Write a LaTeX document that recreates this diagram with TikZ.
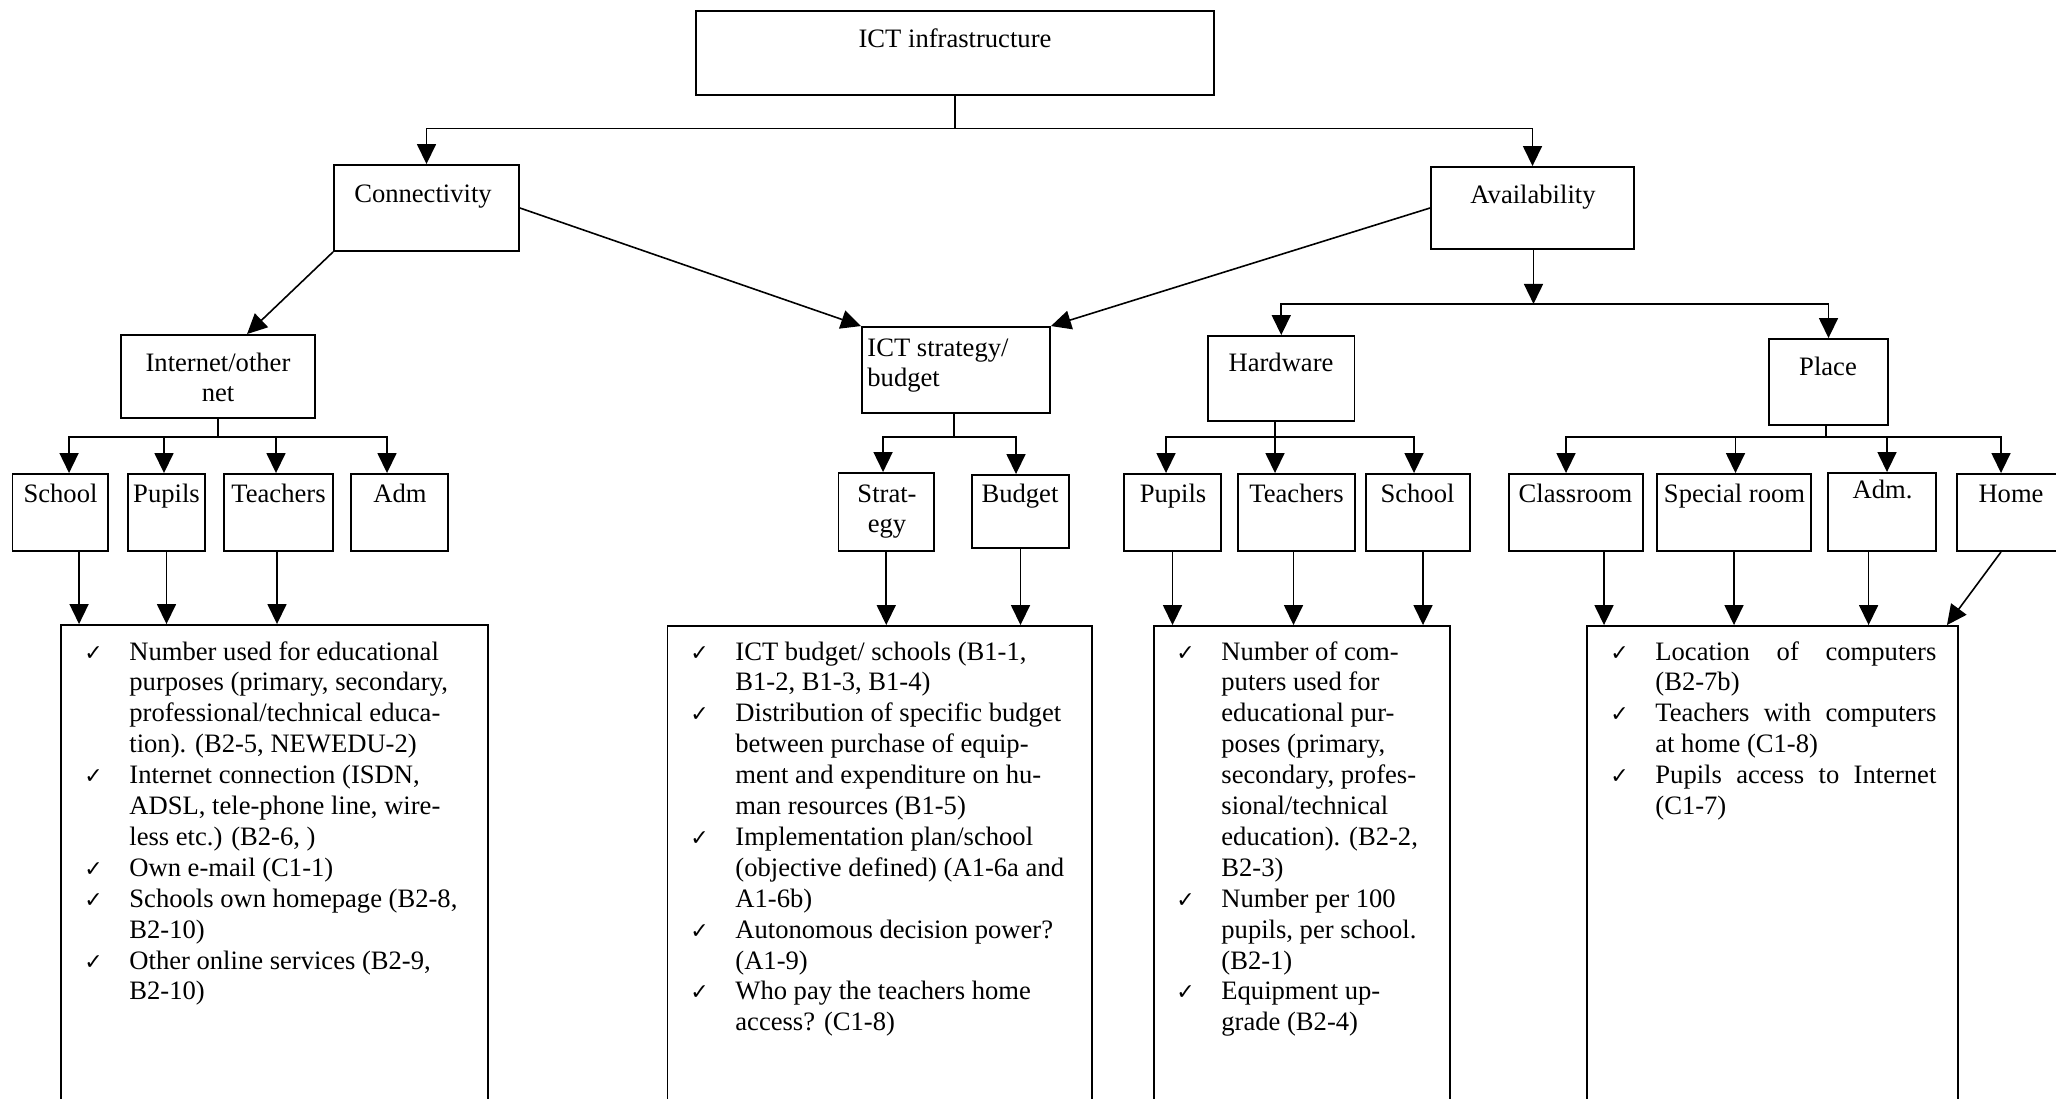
\documentclass[tikz,border=0pt]{standalone}
\usepackage{fontspec}
\setmainfont{Liberation Serif}
\newfontfamily\ckfont{DejaVu Sans}
\usetikzlibrary{arrows.meta,fit,calc}

% check-mark lists with hanging indent
\newlength\hangw \setlength\hangw{22.5pt}
\newcommand\ckm{{\ckfont\fontsize{11}{11}\selectfont ✓}}
\newcommand\itm[1]{\par\hangindent=\hangw\hangafter=1\noindent\makebox[\hangw][l]{\ckm}#1}
\newcommand\jl[1]{\makebox[140.5pt][s]{#1}}
\newcommand\checklist[1]{\begin{minipage}[t]{300pt}\fontsize{13.3}{15.45}\selectfont\setlength\parskip{0pt}\rightskip=0pt plus 1fil\relax #1\par\end{minipage}}
\newcommand\twoline[3]{\begin{tabular}[t]{@{}#1@{}}#2\\#3\end{tabular}}

\begin{document}
\begin{tikzpicture}[x=0.5pt,y=-0.5pt,
  box/.style={draw, line width=0.95pt, inner sep=0pt},
  lbl/.style={inner sep=0pt, anchor=base, font=\fontsize{13.3}{15.45}\selectfont},
  conn/.style={line width=0.8pt},
  arr/.style={conn, -{Triangle[length=10pt,width=9.5pt]}},
  list/.style={inner sep=0pt, anchor=base west}]
\useasboundingbox (0,0) rectangle (2056,1098);
\clip (0,0) rectangle (2056,1098);
\fill[white] (0,0) rectangle (2056,1098);

% ---------- boxes ----------
\node[box, fit={(696,11) (1214,95)}] (ict) {};
\node[box, fit={(334,165) (519,251)}] (conn) {};
\node[box, fit={(1431,167) (1634,249)}] (avail) {};
\node[box, fit={(121,335) (315,418)}] (inet) {};
\node[box, fit={(862,327) (1050,413)}] (strat) {};
\node[box, fit={(1208,336) (1354.5,421)}] (hw) {};
\node[box, fit={(1769,339) (1888,425)}] (place) {};

\node[box, fit={(12.5,474) (108,551)}] (isch) {};
\node[box, fit={(128,474) (205,551)}] (ipup) {};
\node[box, fit={(224,474) (333,551)}] (itea) {};
\node[box, fit={(351,474) (448,551)}] (iadm) {};
\node[box, fit={(838.5,473) (934,551)}] (sstr) {};
\node[box, fit={(972,475) (1069,548)}] (sbud) {};
\node[box, fit={(1124,474) (1221,551)}] (hpup) {};
\node[box, fit={(1238,474) (1355,551)}] (htea) {};
\node[box, fit={(1366,474) (1470,551)}] (hsch) {};
\node[box, fit={(1509,474) (1643,551)}] (pcls) {};
\node[box, fit={(1657,474) (1811,551)}] (pspe) {};
\node[box, fit={(1828,473) (1936,551)}] (padm) {};
\node[box, fit={(1957,474) (2066,551)}] (phome) {};

\node[box, fit={(61,625) (488,1130)}] (d1) {};
\node[box, fit={(667.5,626) (1091.6,1130)}] (d2) {};
\node[box, fit={(1154,626) (1449.6,1130)}] (d3) {};
\node[box, fit={(1587,626) (1958,1130)}] (d4) {};

% ---------- labels ----------
\node[lbl] (t-ict) at (955,47) {ICT infrastructure};
\node[lbl] (t-conn) at (423,202) {Connectivity};
\node[lbl] (t-avail) at (1533,203) {Availability};
\node[lbl] (t-inet) at (218,371) {\twoline{c}{Internet/other}{net}};
\node[lbl, anchor=base west] (t-strat) at (867,356) {\twoline{l}{ICT strategy/}{budget}};
\node[lbl] (t-hw) at (1281,371) {Hardware};
\node[lbl] (t-place) at (1828,375) {Place};

\node[lbl] (t-isch) at (60.5,502) {School};
\node[lbl] (t-ipup) at (166.5,502) {Pupils};
\node[lbl] (t-itea) at (278.5,502) {Teachers};
\node[lbl] (t-iadm) at (400,502) {Adm};
\node[lbl] (t-sstr) at (887,502) {\twoline{c}{Strat-}{egy}};
\node[lbl] (t-sbud) at (1020,502) {Budget};
\node[lbl] (t-hpup) at (1173,502) {Pupils};
\node[lbl] (t-htea) at (1296.5,502) {Teachers};
\node[lbl] (t-hsch) at (1417.5,502) {School};
\node[lbl] (t-pcls) at (1575.5,502) {Classroom};
\node[lbl] (t-pspe) at (1734.5,502) {Special room};
\node[lbl] (t-padm) at (1882.5,498) {Adm.};
\node[lbl] (t-phome) at (2011,502) {Home};

% ---------- check lists ----------
\node[list] (l1) at (84,660) {\checklist{%
\itm{Number used for educational\\purposes (primary, secondary,\\professional/technical educa-\\tion). (B2-5, NEWEDU-2)}
\itm{Internet connection (ISDN,\\ADSL, tele-phone line, wire-\\less etc.) (B2-6, )}
\itm{Own e-mail (C1-1)}
\itm{Schools own homepage (B2-8,\\B2-10)}
\itm{Other online services (B2-9,\\B2-10)}}};

\node[list] (l2) at (690,660) {\checklist{%
\itm{ICT budget/ schools (B1-1,\\B1-2, B1-3, B1-4)}
\itm{Distribution of specific budget\\between purchase of equip-\\ment and expenditure on hu-\\man resources (B1-5)}
\itm{Implementation plan/school\\(objective defined) (A1-6a and\\A1-6b)}
\itm{Autonomous decision power?\\(A1-9)}
\itm{Who pay the teachers home\\access? (C1-8)}}};

\node[list] (l3) at (1176,660) {\checklist{%
\itm{Number of com-\\puters used for\\educational pur-\\poses (primary,\\secondary, profes-\\sional/technical\\education). (B2-2,\\B2-3)}
\itm{Number per 100\\pupils, per school.\\(B2-1)}
\itm{Equipment up-\\grade (B2-4)}}};

\node[list] (l4) at (1610,660) {\checklist{%
\itm{\jl{Location of computers}\\(B2-7b)}
\itm{\jl{Teachers with computers}\\at home (C1-8)}
\itm{\jl{Pupils access to Internet}\\(C1-7)}}};

% ---------- connectors ----------
% top level
\coordinate (jT) at ($(ict.south)+(0,32.5)$);
\draw[conn] (ict.south) -- (jT);
\draw[arr] (jT) -| (conn.north);
\draw[arr] (jT) -| (avail.north);

% second level
\draw[arr] (conn.south west) -- ([xshift=63.5pt]inet.north west);
\draw[arr] (conn.east) -- (strat.north west);
\draw[arr] (avail.west) -- (strat.north east);
\coordinate (jA) at ($(avail.south)+(0,54)$);
\draw[arr] ([xshift=0.5pt]avail.south) -- ([xshift=0.5pt]jA);
\draw[arr] (jA) -| (hw.north);
\draw[arr] (jA) -| (place.north);

% internet children
\coordinate (jI) at ($(inet.south)+(0,18)$);
\draw[conn] (inet.south) -- (jI);
\draw[arr] (jI) -| ([xshift=4.4pt]isch.north);
\draw[arr] (jI) -| ([xshift=-1.25pt]ipup.north);
\draw[arr] (jI) -| ([xshift=-1.25pt]itea.north);
\draw[arr] (jI) -| ([xshift=-6.25pt]iadm.north);

% strategy children
\coordinate (jS) at ($([xshift=-1pt]strat.south)+(0,23)$);
\draw[conn] ([xshift=-1pt]strat.south) -- (jS);
\draw[arr] (jS) -| ([xshift=-1.6pt]sstr.north);
\draw[arr] (jS) -| ([xshift=-2.25pt]sbud.north);

% hardware children
\coordinate (jH) at ($([xshift=-3pt]hw.south)+(0,15)$);
\draw[conn] ([xshift=-3pt]hw.south) -- (jH);
\draw[arr] (jH) -| ([xshift=-3.25pt]hpup.north);
\draw[arr] (jH) -| ([xshift=-10.75pt]htea.north);
\draw[arr] (jH) -| ([xshift=-2pt]hsch.north);

% place children
\coordinate (jP) at ($([xshift=-1.25pt]place.south)+(0,11)$);
\draw[conn] ([xshift=-1.25pt]place.south) -- (jP);
\draw[arr] (jP) -| ([xshift=-5pt]pcls.north);
\draw[arr] (jP) -| ([xshift=0.75pt]pspe.north);
\draw[arr] (jP) -| ([xshift=2.5pt]padm.north);
\draw[arr] (jP) -| ([xshift=-5.25pt]phome.north);

% into the detail boxes
\draw[arr] ([xshift=9.4pt]isch.south) -- ([xshift=9.4pt]isch.south |- d1.north);
\draw[arr] (ipup.south) -- (ipup.south |- d1.north);
\draw[arr] ([xshift=-0.75pt]itea.south) -- ([xshift=-0.75pt]itea.south |- d1.north);
\draw[arr] (sstr.south) -- (sstr.south |- d2.north);
\draw[arr] (sbud.south) -- (sbud.south |- d2.north);
\draw[arr] (hpup.south) -- (hpup.south |- d3.north);
\draw[arr] ([xshift=-1.5pt]htea.south) -- ([xshift=-1.5pt]htea.south |- d3.north);
\draw[arr] ([xshift=2.5pt]hsch.south) -- ([xshift=2.5pt]hsch.south |- d3.north);
\draw[arr] ([xshift=14pt]pcls.south) -- ([xshift=14pt]pcls.south |- d4.north);
\draw[arr] (pspe.south) -- (pspe.south |- d4.north);
\draw[arr] ([xshift=-6.7pt]padm.south) -- ([xshift=-6.7pt]padm.south |- d4.north);
\draw[arr] ([xshift=-5.25pt]phome.south) -- ([xshift=-6pt]d4.north east);
\end{tikzpicture}
\end{document}
